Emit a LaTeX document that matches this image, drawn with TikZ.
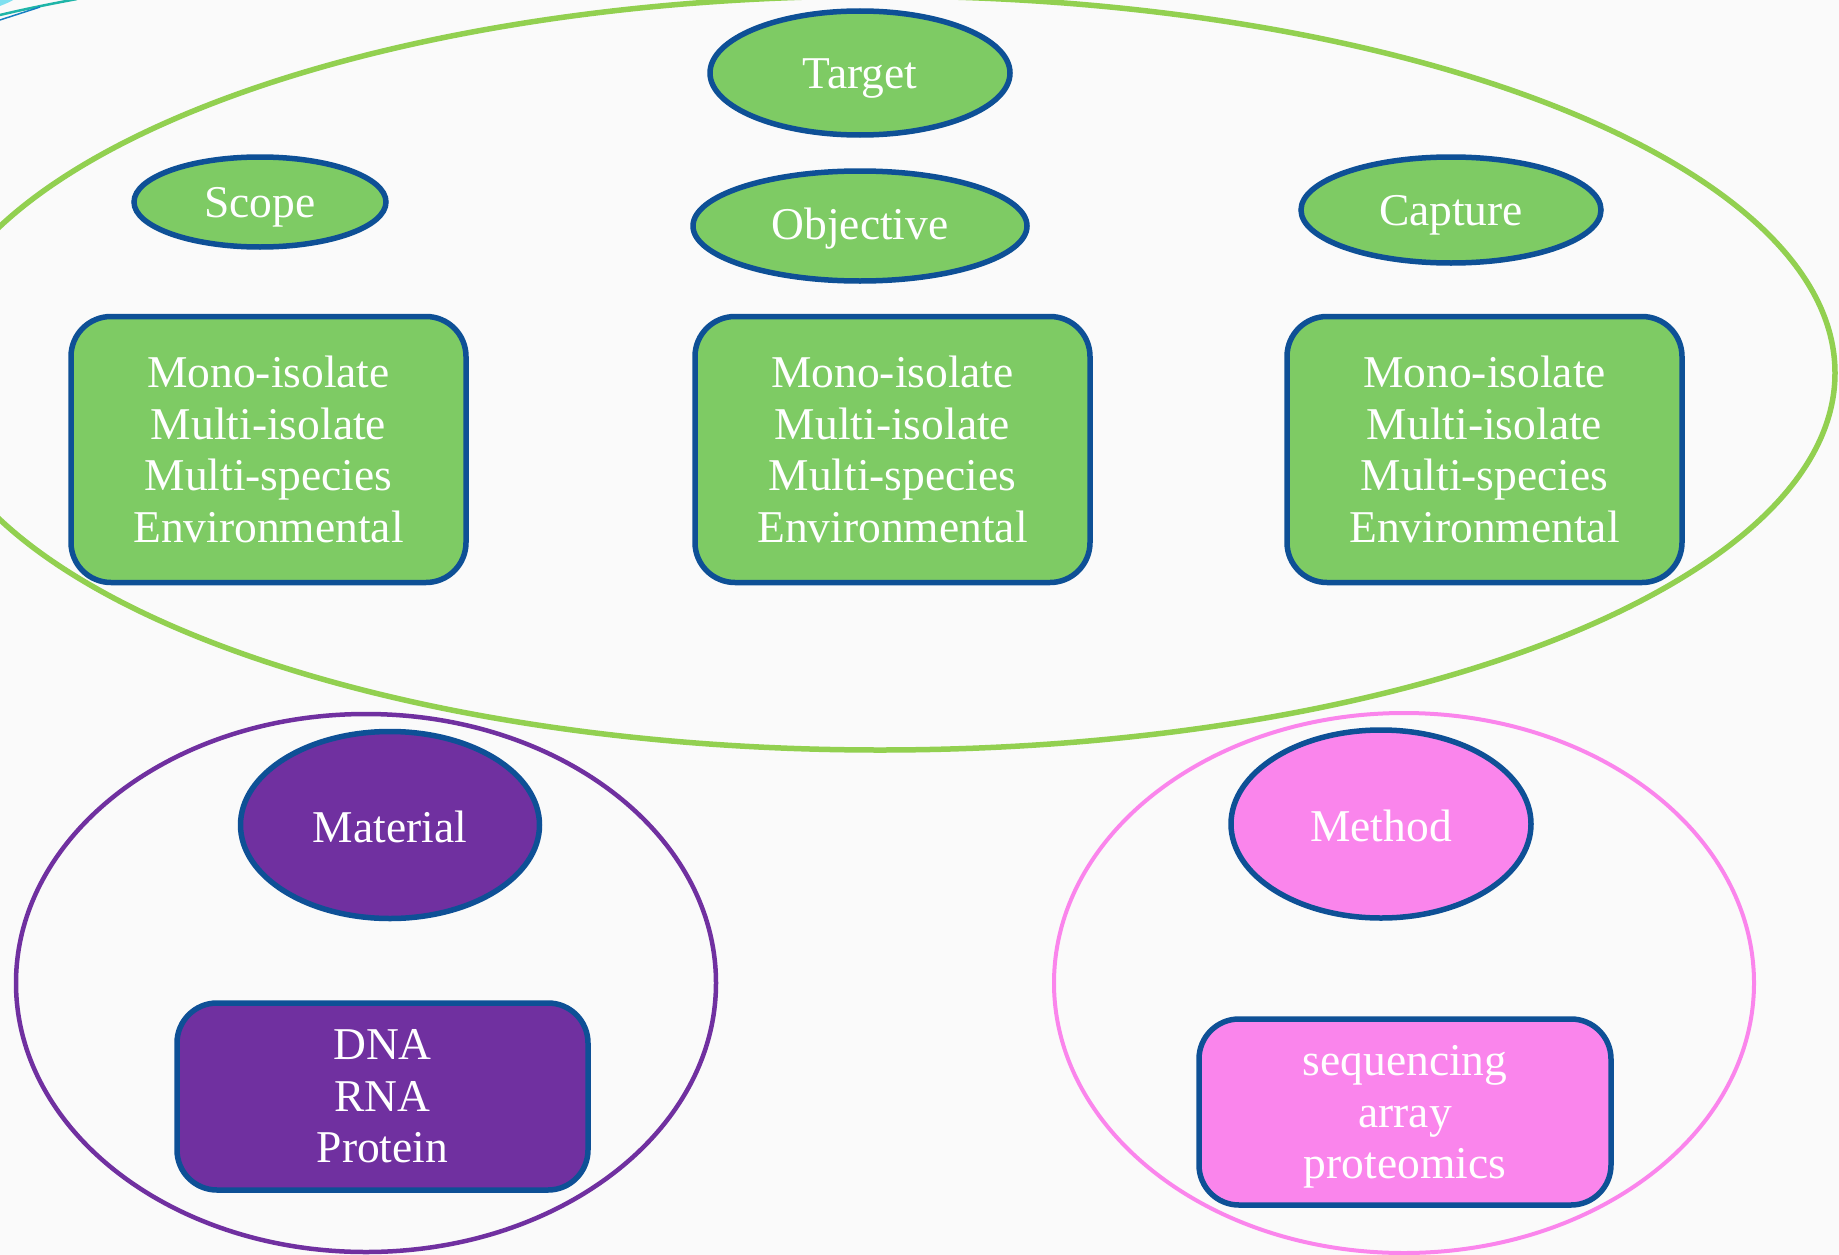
\documentclass[tikz,border=0pt]{standalone}
\usepackage{fontspec}
\setmainfont{Liberation Serif}
\usetikzlibrary{shapes.geometric}

\definecolor{leaf}{HTML}{7ECB64}
\definecolor{ring}{HTML}{92D050}
\definecolor{edge}{HTML}{0E5096}
\definecolor{grape}{HTML}{7030A0}
\definecolor{rose}{HTML}{FA85EC}
\definecolor{teal}{HTML}{1FB5A8}
\definecolor{sky}{HTML}{7FE0F0}
\definecolor{paper}{HTML}{FAFAFA}

\tikzset{
  label/.style={text=white, font=\fontsize{45.5}{51.5}\selectfont, align=center, inner sep=0pt},
  oval/.style={label, ellipse, draw=edge, line width=5.5pt},
  panel/.style={label, rectangle, rounded corners=40pt, draw=edge, line width=5.5pt},
}

\begin{document}
\begin{tikzpicture}[x=1pt, y=-1pt]
  \useasboundingbox (0,0) rectangle (1839,1255);
  \fill[paper] (0,0) rectangle (1839,1255);
  \clip (0,0) rectangle (1839,1255);

  % strokes in the upper left corner
  \fill[sky] (0,-1) -- (0,6) .. controls (5,4) and (10,2) .. (15,-1) -- cycle;
  \draw[teal, line width=2.5pt] (0,15) .. controls (25,9) and (50,4) .. (77,-1);
  \draw[teal!70!blue, line width=1.5pt] (0,20) .. controls (12,16) and (25,12) .. (40,7);

  % grouping ellipses
  \draw[ring, line width=5.5pt] (880,373) ellipse [x radius=955pt, y radius=377pt];
  \draw[grape, line width=4.5pt] (366,983) ellipse [x radius=350pt, y radius=269pt];
  \draw[rose, line width=4pt] (1404,983) ellipse [x radius=350pt, y radius=270pt];

  % target group
  \node[oval, fill=leaf, minimum width=300pt, minimum height=124pt] (target) at (860,73) {};
  \node[label] at ([yshift=-6pt]target.center) {Target};
  \node[oval, fill=leaf, minimum width=252pt, minimum height=90pt] (scope) at (260,202) {};
  \node[label] at ([yshift=-5pt]scope.center) {Scope};
  \node[oval, fill=leaf, minimum width=334pt, minimum height=110pt] (objective) at (860,226) {};
  \node[label] at ([yshift=-3pt]objective.center) {Objective};
  \node[oval, fill=leaf, minimum width=300pt, minimum height=106pt] (capture) at (1451,210) {};
  \node[label] at ([yshift=-5pt]capture.center) {Capture};

  \node[panel, fill=leaf, minimum width=395pt, minimum height=266pt] (scopebox) at (268.5,449.5)
    {Mono-isolate\\Multi-isolate\\Multi-species\\Environmental};
  \node[panel, fill=leaf, minimum width=395pt, minimum height=266pt] (objbox) at (892.5,449.5)
    {Mono-isolate\\Multi-isolate\\Multi-species\\Environmental};
  \node[panel, fill=leaf, minimum width=395pt, minimum height=266pt] (capbox) at (1484.5,449.5)
    {Mono-isolate\\Multi-isolate\\Multi-species\\Environmental};

  % material group
  \node[oval, fill=grape, minimum width=299pt, minimum height=187pt] (material) at (390,825) {};
  \node[label] at ([yshift=-2pt]material.center) {Material};
  \node[panel, fill=grape, minimum width=411pt, minimum height=187pt] (matbox) at (382.5,1096.5)
    {DNA\\RNA\\Protein};

  % method group
  \node[oval, fill=rose, minimum width=300pt, minimum height=188pt] (method) at (1381,824) {};
  \node[label] at ([yshift=-2pt]method.center) {Method};
  \node[panel, fill=rose, minimum width=412pt, minimum height=186pt] (methbox) at (1405,1112) {};
  \node[label] at ([yshift=-5pt]methbox.center) {sequencing\\array\\proteomics};
\end{tikzpicture}
\end{document}
